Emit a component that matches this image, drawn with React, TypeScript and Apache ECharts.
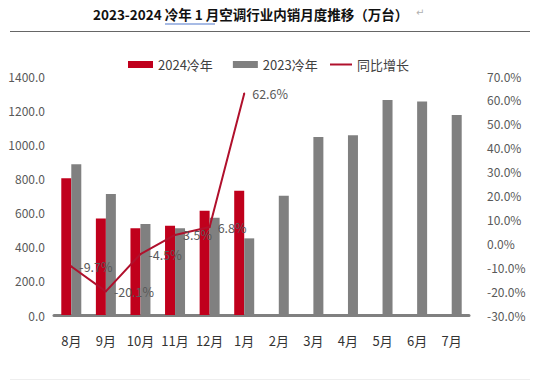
import React, { useEffect, useRef } from "react";
import * as echarts from "echarts";

const categories = ["8月", "9月", "10月", "11月", "12月", "1月", "2月", "3月", "4月", "5月", "6月", "7月"];
const sales2024 = [801, 566, 508, 523, 611, 728, null, null, null, null, null, null];
const sales2023 = [883, 709, 533, 508, 570, 449, 699, 1043, 1053, 1260, 1250, 1172];
const yoyGrowth = [-9.7, -20.1, -4.5, 3.5, 6.8, 62.6, null, null, null, null, null, null];

const titleText = "2023-2024 冷年 1 月空调行业内销月度推移（万台）";
const FONT = '"Liberation Sans Narrow", "Noto Sans CJK SC", sans-serif';

export default function App() {
  const ref = useRef<HTMLDivElement>(null);
  useEffect(() => {
    if (!ref.current) return;
    const chart = echarts.init(ref.current, undefined, { renderer: "svg" });
    chart.setOption({
      animation: false,
      backgroundColor: "#ffffff",
      textStyle: { fontFamily: FONT },
      graphic: [
        {
          type: "text",
          left: 93,
          top: 7,
          style: { text: titleText, font: 'bold 13.5px "Noto Sans CJK SC", sans-serif', fill: "#111" },
        },
        {
          type: "text",
          left: 416,
          top: 7,
          style: { text: "↵", font: '10px "DejaVu Sans", sans-serif', fill: "#b0b0b0" },
        },
        {
          type: "line",
          shape: { x1: 165, y1: 24, x2: 215, y2: 24 },
          style: { stroke: "#8aa4dc", lineWidth: 1.5 },
        },
        {
          type: "line",
          shape: { x1: 10, y1: 31.5, x2: 530, y2: 31.5 },
          style: { stroke: "#666", lineWidth: 1 },
        },
        {
          type: "line",
          shape: { x1: 10, y1: 379.5, x2: 530, y2: 379.5 },
          style: { stroke: "#eeeeee", lineWidth: 1 },
        },
      ],
      legend: [
        {
          data: ["2024冷年", "2023冷年"],
          left: 128,
          top: 58,
          padding: 0,
          icon: "rect",
          itemWidth: 25,
          itemHeight: 7,
          itemGap: 20,
          textStyle: { fontSize: 13, color: "#404040", fontFamily: FONT },
        },
        {
          data: ["同比增长"],
          left: 330,
          top: 58,
          padding: 0,
          icon: "rect",
          itemWidth: 22,
          itemHeight: 2,
          textStyle: { fontSize: 13, color: "#404040", fontFamily: FONT },
        },
      ],
      grid: { left: 54, right: 68, top: 76, bottom: 66 },
      xAxis: {
        type: "category",
        data: categories,
        axisTick: { show: false },
        axisLine: { lineStyle: { color: "#808080", width: 3 } },
        axisLabel: { color: "#333", fontSize: 13, margin: 19, interval: 0, fontFamily: FONT },
      },
      yAxis: [
        {
          type: "value",
          min: 0,
          max: 1400,
          interval: 200,
          splitLine: { show: false },
          axisLine: { show: false },
          axisTick: { show: false },
          axisLabel: {
            color: "#595959",
            fontSize: 12,
            margin: 9,
            fontFamily: FONT,
            formatter: (v: number) => v.toFixed(1),
          },
        },
        {
          type: "value",
          min: -30,
          max: 70,
          interval: 10,
          splitLine: { show: false },
          axisLine: { show: false },
          axisTick: { show: false },
          axisLabel: {
            color: "#595959",
            fontSize: 12,
            margin: 18,
            fontFamily: FONT,
            formatter: (v: number) => v.toFixed(1) + "%",
          },
        },
      ],
      series: [
        {
          name: "2024冷年",
          type: "bar",
          data: sales2024,
          barWidth: 10,
          barGap: "0%",
          itemStyle: { color: "#C0001C" },
        },
        {
          name: "2023冷年",
          type: "bar",
          data: sales2023,
          barWidth: 10,
          barGap: "0%",
          itemStyle: { color: "#808080" },
        },
        {
          name: "同比增长",
          type: "line",
          yAxisIndex: 1,
          data: yoyGrowth,
          symbol: "circle",
          symbolSize: 2,
          itemStyle: { color: "#B0102C" },
          lineStyle: { color: "#B0102C", width: 2 },
          label: {
            show: true,
            position: "right",
            distance: 7,
            color: "#595959",
            fontSize: 12.5,
            fontFamily: FONT,
            formatter: (p: any) => Number(p.value).toFixed(1) + "%",
          },
        },
      ],
    });
    return () => chart.dispose();
  }, []);
  return <div ref={ref} style={{ width: 537, height: 381, position: "fixed", left: 0, top: 0 }} />;
}
